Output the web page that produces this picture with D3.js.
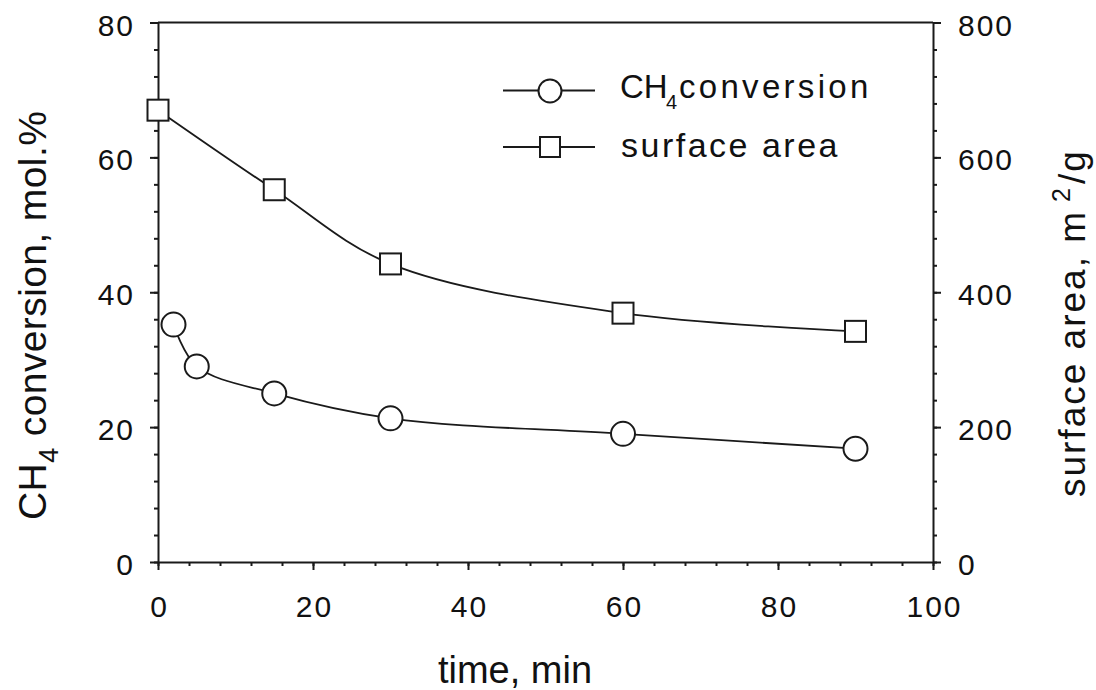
<!DOCTYPE html>
<html>
<head>
<meta charset="utf-8">
<script src="https://cdn.jsdelivr.net/npm/d3@7"></script>
<style>
  html, body { margin: 0; padding: 0; background: #fff; }
  svg { display: block; }
  text { font-family: "Liberation Sans", Arial, Helvetica, sans-serif; fill: #111; }
</style>
</head>
<body>
<script>
// ---- data ----
const timeConv = [2, 5, 15, 30, 60, 90];
const convValues = [35.2, 29.0, 25.0, 21.3, 19.0, 16.8];
const timeArea = [0, 15, 30, 60, 90];
const areaValues = [670, 552, 442, 369, 342];
const xTicks = [0, 20, 40, 60, 80, 100];
const yLeftTicks = [0, 20, 40, 60, 80];
const yRightTicks = [0, 200, 400, 600, 800];
const legendLabels = ["conversion", "surface area"];

// ---- layout ----
const W = 1096, H = 690;
const L = 158, R = 933, T = 22.5, B = 562;
const ink = "#1a1a1a";

const svg = d3.select("body").append("svg").attr("width", W).attr("height", H);

const x = d3.scaleLinear().domain([0, 100]).range([L, R]);
const yL = d3.scaleLinear().domain([0, 80]).range([B, T]);
const yR = d3.scaleLinear().domain([0, 800]).range([B, T]);

function styleAxis(g) {
  g.select(".domain").attr("stroke", ink).attr("stroke-width", 2);
  g.selectAll(".tick line").attr("stroke", ink).attr("stroke-width", 2);
  g.selectAll("text").style("font-family", '"Liberation Sans", Arial, sans-serif')
    .style("font-size", "30px").style("letter-spacing", "2px").attr("fill", "#111");
}

// minor ticks
svg.append("g").attr("transform", `translate(0,${B})`)
  .call(d3.axisBottom(x).tickValues(d3.range(0, 101, 4)).tickSize(4).tickSizeOuter(0).tickFormat(""))
  .call(g => { g.select(".domain").remove(); g.selectAll(".tick line").attr("stroke", ink).attr("stroke-width", 2); });
svg.append("g").attr("transform", `translate(${L},0)`)
  .call(d3.axisLeft(yL).tickValues(d3.range(0, 81, 4)).tickSize(4).tickSizeOuter(0).tickFormat(""))
  .call(g => { g.select(".domain").remove(); g.selectAll(".tick line").attr("stroke", ink).attr("stroke-width", 2); });
svg.append("g").attr("transform", `translate(${R},0)`)
  .call(d3.axisRight(yR).tickValues(d3.range(0, 801, 40)).tickSize(4).tickSizeOuter(0).tickFormat(""))
  .call(g => { g.select(".domain").remove(); g.selectAll(".tick line").attr("stroke", ink).attr("stroke-width", 2); });

// major axes
const gx = svg.append("g").attr("transform", `translate(0,${B})`)
  .call(d3.axisBottom(x).tickValues(xTicks).tickSize(8).tickSizeOuter(0))
  .call(styleAxis);
gx.selectAll(".tick text").attr("y", 54.5).attr("dy", 0).attr("dx", "1px");

const gl = svg.append("g").attr("transform", `translate(${L},0)`)
  .call(d3.axisLeft(yL).tickValues(yLeftTicks).tickSize(8).tickSizeOuter(0))
  .call(styleAxis);
gl.selectAll(".tick text").attr("x", -23).attr("dy", "0.42em");

const gr = svg.append("g").attr("transform", `translate(${R},0)`)
  .call(d3.axisRight(yR).tickValues(yRightTicks).tickSize(8).tickSizeOuter(0))
  .call(styleAxis);
gr.selectAll(".tick text").attr("x", 25).attr("dy", "0.42em");

// top frame line
svg.append("line").attr("x1", x(0)).attr("x2", x(100)).attr("y1", yL(80)).attr("y2", yL(80))
  .attr("stroke", ink).attr("stroke-width", 2);

// ---- series ----
const convData = timeConv.map((t, i) => ({ t, v: convValues[i] }));
const areaData = timeArea.map((t, i) => ({ t, v: areaValues[i] }));

const lineConv = d3.line().x(d => x(d.t)).y(d => yL(d.v)).curve(d3.curveCatmullRom.alpha(0.5));
const lineArea = d3.line().x(d => x(d.t)).y(d => yR(d.v)).curve(d3.curveCatmullRom.alpha(0.5));

svg.append("path").datum(convData).attr("d", lineConv)
  .attr("fill", "none").attr("stroke", ink).attr("stroke-width", 1.8);
svg.append("path").datum(areaData).attr("d", lineArea)
  .attr("fill", "none").attr("stroke", ink).attr("stroke-width", 1.8);

const sq = 21;
svg.append("g").selectAll("rect").data(areaData).join("rect")
  .attr("x", d => x(d.t) - sq / 2).attr("y", d => yR(d.v) - sq / 2)
  .attr("width", sq).attr("height", sq)
  .attr("fill", "#fff").attr("stroke", ink).attr("stroke-width", 2);

svg.append("g").selectAll("circle").data(convData).join("circle")
  .attr("cx", d => x(d.t)).attr("cy", d => yL(d.v)).attr("r", 12)
  .attr("fill", "#fff").attr("stroke", ink).attr("stroke-width", 2);

// ---- legend ----
const lg = svg.append("g");
lg.append("line").attr("x1", 503).attr("x2", 595).attr("y1", 90.5).attr("y2", 90.5)
  .attr("stroke", ink).attr("stroke-width", 1.8);
lg.append("circle").attr("cx", 550).attr("cy", 91).attr("r", 11.5)
  .attr("fill", "#fff").attr("stroke", ink).attr("stroke-width", 2);
lg.append("line").attr("x1", 503).attr("x2", 595).attr("y1", 147).attr("y2", 147)
  .attr("stroke", ink).attr("stroke-width", 1.8);
lg.append("rect").attr("x", 540).attr("y", 137).attr("width", 20).attr("height", 20)
  .attr("fill", "#fff").attr("stroke", ink).attr("stroke-width", 2);

const t1 = lg.append("text").attr("x", 620).attr("y", 98).style("font-size", "33px");
t1.append("tspan").text("CH");
t1.append("tspan").text("4").style("font-size", "20px").attr("x", 666).attr("dy", 11);
t1.append("tspan").text(legendLabels[0]).attr("x", 679).attr("dy", -11).style("letter-spacing", "3.3px");
lg.append("text").attr("x", 621).attr("y", 157).style("font-size", "34px")
  .style("letter-spacing", "2.5px").text(legendLabels[1]);

// ---- axis titles ----
svg.append("text").attr("x", 515).attr("y", 683).attr("text-anchor", "middle")
  .style("font-size", "38px").text("time, min");

const lt = svg.append("text").attr("transform", "translate(46,520) rotate(-90)")
  .attr("text-anchor", "start").style("font-size", "39px").style("letter-spacing", "0.4px");
lt.append("tspan").text("CH");
lt.append("tspan").text("4").style("font-size", "27px").attr("dy", 12);
lt.append("tspan").text(" conversion, mol.%").attr("dy", -12);

const rt = svg.append("text").attr("transform", "translate(1085,497) rotate(-90)")
  .attr("text-anchor", "start").style("font-size", "37px").style("letter-spacing", "2px");
rt.append("tspan").text("surface area, m");
rt.append("tspan").text("2").style("font-size", "25px").attr("dy", -15).attr("dx", 8);
rt.append("tspan").text("/g").attr("dy", 15).attr("dx", 2);
</script>
</body>
</html>
